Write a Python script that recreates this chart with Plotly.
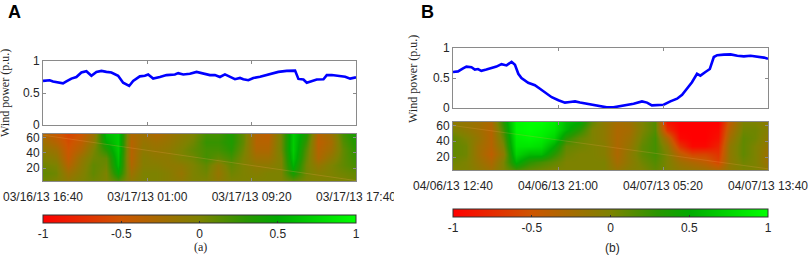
import plotly.graph_objects as go
import pandas as pd

W, H = 809, 258

# ---------------- data ----------------
a_start = "2013-03-16 16:40"
b_start = "2013-04-06 12:40"
tick_minutes = [0, 500, 1000, 1500]

a_minutes = [0, 32, 48, 72, 96, 112, 136, 160, 184, 208, 232, 256, 280, 304, 328, 360, 384, 413, 432, 464,
             488, 504, 528, 560, 592, 632, 648, 672, 704, 736, 768, 800, 824, 848, 872, 896, 920, 944, 960, 984,
             1008, 1040, 1072, 1104, 1128, 1168, 1208, 1224, 1248, 1264, 1288, 1312, 1344, 1360, 1384, 1416, 1448, 1472, 1500]
a_power = [0.69, 0.70, 0.68, 0.66, 0.65, 0.68, 0.725, 0.75, 0.82, 0.84, 0.77, 0.83, 0.845, 0.83, 0.82, 0.77, 0.66, 0.61, 0.69, 0.76,
           0.77, 0.79, 0.725, 0.75, 0.78, 0.79, 0.81, 0.79, 0.80, 0.83, 0.80, 0.78, 0.78, 0.75, 0.79, 0.75, 0.715, 0.735, 0.715, 0.70,
           0.735, 0.755, 0.78, 0.80, 0.83, 0.845, 0.85, 0.72, 0.71, 0.66, 0.68, 0.71, 0.715, 0.78, 0.78, 0.77, 0.755, 0.725, 0.745]

b_minutes = [0, 24, 48, 64, 88, 104, 119, 135, 159, 183, 207, 231, 255, 279, 295, 311, 326, 358, 390, 414,
             446, 470, 502, 533, 557, 581, 605, 637, 669, 701, 732, 764, 796, 828, 860, 900, 924, 947, 971, 1003,
             1035, 1067, 1091, 1115, 1138, 1162, 1178, 1202, 1223, 1242, 1258, 1290, 1322, 1354, 1385, 1417, 1449, 1481, 1500]
b_power = [0.60, 0.61, 0.66, 0.69, 0.68, 0.64, 0.65, 0.62, 0.64, 0.66, 0.69, 0.73, 0.71, 0.77, 0.72, 0.57, 0.50, 0.42, 0.38, 0.32,
           0.24, 0.18, 0.13, 0.09, 0.10, 0.11, 0.09, 0.067, 0.044, 0.022, 0.011, 0.011, 0.033, 0.044, 0.072, 0.11, 0.09, 0.044, 0.044, 0.055,
           0.11, 0.155, 0.22, 0.32, 0.43, 0.57, 0.54, 0.60, 0.65, 0.85, 0.88, 0.89, 0.894, 0.87, 0.86, 0.87, 0.86, 0.84, 0.82]

grid_minutes = list(range(0, 1501, 60))
scales_top_down = [64, 54, 44, 34, 24, 14, 4]

a_coef_top_down = [
    [-0.3, -0.45, -0.6, -0.5, -0.2, 0.6, 0.7, -0.3, -0.2, -0.3, -0.2, -0.1, 0.0, 0.2, 0.2, 0.35, 0.1, -0.35, -0.4, 0.05, 0.7, 0.35, -0.35, -0.2, 0.2, 0.4],
    [-0.2, -0.35, -0.55, -0.4, -0.1, 0.5, 0.7, -0.35, -0.15, -0.2, -0.15, -0.05, 0.05, 0.25, 0.25, 0.35, 0.1, -0.35, -0.35, 0.05, 0.7, 0.25, -0.4, -0.25, 0.15, 0.35],
    [-0.1, -0.2, -0.5, -0.3, 0.0, 0.3, 0.7, -0.35, -0.1, -0.15, -0.1, 0.0, 0.1, 0.2, 0.2, 0.3, 0.05, -0.3, -0.3, 0.05, 0.7, 0.15, -0.35, -0.2, 0.1, 0.3],
    [0.0, -0.1, -0.45, -0.15, 0.05, 0.1, 0.65, -0.35, -0.05, -0.1, -0.1, 0.0, 0.05, 0.2, 0.1, 0.2, 0.0, -0.2, -0.2, 0.0, 0.65, 0.1, -0.3, -0.1, 0.1, 0.25],
    [0.05, 0.0, -0.35, -0.1, 0.1, 0.05, 0.6, -0.3, -0.05, -0.05, -0.1, -0.1, 0.0, 0.1, -0.1, 0.1, 0.0, -0.1, -0.1, 0.0, 0.55, 0.05, -0.15, 0.0, 0.1, 0.2],
    [0.1, 0.05, -0.2, -0.05, 0.1, 0.0, 0.45, -0.2, 0.0, 0.0, -0.05, -0.15, 0.0, 0.05, -0.15, 0.05, 0.0, -0.05, 0.0, 0.0, 0.4, 0.05, -0.05, 0.0, 0.05, 0.1],
    [0.05, 0.0, -0.1, 0.0, 0.05, 0.0, 0.15, -0.1, 0.0, 0.0, -0.05, -0.1, 0.0, 0.0, -0.1, 0.0, 0.0, 0.0, 0.0, 0.0, 0.1, 0.0, 0.0, 0.0, 0.0, 0.05],
]

b_coef_top_down = [
    [-0.1, -0.15, -0.2, -0.3, 0.3, 0.95, 1.0, 1.0, 0.9, 0.6, 0.5, 0.1, -0.1, -0.25, -0.2, 0.0, 0.15, -0.9, -1.0, -1.0, -1.0, -1.0, -0.4, 0.0, 0.0, -0.1],
    [0.0, -0.1, -0.2, -0.35, 0.2, 0.95, 1.0, 0.95, 0.85, 0.55, 0.3, 0.0, -0.1, -0.3, -0.25, 0.0, 0.15, -0.7, -1.0, -1.0, -1.0, -0.95, -0.3, 0.05, 0.05, -0.05],
    [0.1, 0.0, -0.15, -0.35, 0.1, 0.9, 0.95, 0.9, 0.75, 0.3, 0.1, 0.0, -0.1, -0.3, -0.2, 0.05, 0.2, -0.3, -0.95, -1.0, -1.0, -0.9, -0.2, 0.1, 0.05, -0.1],
    [0.1, 0.05, -0.2, -0.35, 0.0, 0.85, 0.85, 0.8, 0.5, 0.1, 0.05, 0.0, -0.05, -0.3, -0.15, 0.1, 0.2, -0.1, -0.7, -0.95, -0.95, -0.8, -0.1, 0.1, 0.0, -0.15],
    [0.1, 0.05, -0.2, -0.4, -0.1, 0.75, 0.6, 0.6, 0.3, 0.05, 0.0, 0.0, -0.05, -0.3, -0.1, 0.1, 0.2, 0.0, -0.4, -0.6, -0.6, -0.7, -0.1, 0.1, 0.0, -0.2],
    [0.05, 0.0, -0.15, -0.3, 0.0, 0.55, 0.3, 0.2, 0.1, 0.0, 0.0, 0.0, 0.0, -0.25, -0.1, 0.05, 0.15, 0.0, -0.2, -0.3, -0.4, -0.6, -0.1, 0.05, 0.0, -0.2],
    [0.0, 0.0, -0.1, -0.2, 0.0, 0.2, 0.1, 0.05, 0.0, 0.0, 0.0, 0.0, 0.0, -0.15, -0.05, 0.0, 0.1, 0.0, -0.1, -0.15, -0.2, -0.3, -0.1, 0.0, 0.0, -0.1],
]

# faint cone-of-influence style trace seen across each scalogram
a_cone_minutes = [0, 1500]
a_cone_scale = [63, 4]
b_cone_minutes = [0, 1500]
b_cone_scale = [60, 5]

cbar_ticks = [-1, -0.5, 0, 0.5, 1]
cbar_labels = ["-1", "-0.5", "0", "0.5", "1"]
power_ticks = [0, 0.5, 1]
power_labels = ["0", "0.5", "1"]
scale_ticks = [20, 40, 60]

colorscale = [[0.0, "rgb(255,0,0)"], [0.25, "rgb(205,85,0)"], [0.5, "rgb(125,130,0)"],
              [0.65, "rgb(40,150,0)"], [0.75, "rgb(0,170,0)"], [1.0, "rgb(0,255,0)"]]


def tick_text(start):
    t0 = pd.Timestamp(start)
    return [(t0 + pd.Timedelta(minutes=m)).strftime("%m/%d/%y %H:%M") for m in tick_minutes]


def px_x(p):
    return p / W


def px_y(p):
    return 1 - p / H


fig = go.Figure()

fig.add_trace(go.Scatter(x=a_minutes, y=a_power, mode="lines", line=dict(color="#0000ff", width=2.6),
                         xaxis="x", yaxis="y", showlegend=False))
fig.add_trace(go.Heatmap(x=grid_minutes, y=scales_top_down[::-1], z=a_coef_top_down[::-1], zsmooth="best",
                         coloraxis="coloraxis", xaxis="x2", yaxis="y2"))
fig.add_trace(go.Scatter(x=a_cone_minutes, y=a_cone_scale, mode="lines",
                         line=dict(color="rgba(240,160,80,0.25)", width=1), xaxis="x2", yaxis="y2", showlegend=False))
fig.add_trace(go.Scatter(x=b_minutes, y=b_power, mode="lines", line=dict(color="#0000ff", width=2.6),
                         xaxis="x3", yaxis="y3", showlegend=False))
fig.add_trace(go.Heatmap(x=grid_minutes, y=scales_top_down[::-1], z=b_coef_top_down[::-1], zsmooth="best",
                         coloraxis="coloraxis2", xaxis="x4", yaxis="y4"))
fig.add_trace(go.Scatter(x=b_cone_minutes, y=b_cone_scale, mode="lines",
                         line=dict(color="rgba(240,160,80,0.22)", width=1), xaxis="x4", yaxis="y4", showlegend=False))

tick_font = dict(family="Liberation Sans, Arial, sans-serif", size=12, color="#262626")
ax = dict(showline=True, linecolor="#8a8a8a", linewidth=1, mirror="ticks", ticks="inside", ticklen=3,
          tickcolor="#8a8a8a", showgrid=False, zeroline=False, tickfont=tick_font, fixedrange=True,
          automargin=False)

panels = {
    "A": dict(x0=43, x1=356, ly0=61, ly1=125, hy0=134, hy1=181, cb0=215, cb1=223, start=a_start),
    "B": dict(x0=453, x1=768, ly0=48, ly1=108, hy0=122, hy1=170, cb0=209, cb1=217, start=b_start),
}

layout = dict(width=W, height=H, margin=dict(l=0, r=0, t=0, b=0, pad=0, autoexpand=False),
              paper_bgcolor="white", plot_bgcolor="white", showlegend=False)

for i, key in enumerate(["A", "B"]):
    p = panels[key]
    n1 = 2 * i + 1
    n2 = 2 * i + 2
    xd = [px_x(p["x0"]), px_x(p["x1"])]
    s1 = "" if n1 == 1 else str(n1)
    layout["xaxis" + s1] = dict(ax, domain=xd, range=[0, 1500], tickvals=tick_minutes, showticklabels=False,
                                anchor="y" + s1)
    layout["yaxis" + s1] = dict(ax, domain=[px_y(p["ly1"]), px_y(p["ly0"])], range=[0, 1], tickvals=power_ticks,
                                ticktext=power_labels, anchor="x" + s1)
    layout["xaxis" + str(n2)] = dict(ax, domain=xd, range=[0, 1500], tickvals=tick_minutes,
                                     ticktext=tick_text(p["start"]), anchor="y" + str(n2), ticklabelstandoff=5)
    layout["yaxis" + str(n2)] = dict(ax, domain=[px_y(p["hy1"]), px_y(p["hy0"])], range=[3.5, 64.5],
                                     tickvals=scale_ticks, anchor="x" + str(n2))
    ca = "coloraxis" if i == 0 else "coloraxis2"
    layout[ca] = dict(colorscale=colorscale, cmin=-1, cmax=1,
                      colorbar=dict(orientation="h", x=(xd[0] + xd[1]) / 2, xanchor="center",
                                    y=px_y(p["cb0"]), yanchor="top", len=xd[1] - xd[0], lenmode="fraction",
                                    thickness=p["cb1"] - p["cb0"], thicknessmode="pixels", outlinewidth=1,
                                    outlinecolor="#333333", tickvals=cbar_ticks, ticktext=cbar_labels,
                                    ticks="inside", ticklen=2, tickcolor="#333333", tickfont=tick_font,
                                    ticklabelposition="outside bottom", xpad=0, ypad=0))

fig.update_layout(**layout)

serif = "Liberation Serif, Times New Roman, serif"
ann = [
    dict(text="<b>A</b>", x=px_x(14), y=px_y(12), font=dict(family="Liberation Sans, Arial", size=18, color="black")),
    dict(text="<b>B</b>", x=px_x(427), y=px_y(12), font=dict(family="Liberation Sans, Arial", size=18, color="black")),
    dict(text="Wind power (p.u.)", x=px_x(5), y=px_y(93), textangle=-90, font=dict(family=serif, size=12, color="#262626")),
    dict(text="Wind power (p.u.)", x=px_x(413), y=px_y(79), textangle=-90, font=dict(family=serif, size=12, color="#262626")),
    dict(text="(a)", x=px_x(200), y=px_y(247), font=dict(family=serif, size=12, color="#262626")),
    dict(text="(b)", x=px_x(612), y=px_y(248), font=dict(family="Liberation Sans, Arial", size=12, color="#262626")),
]
fig.update_layout(annotations=[dict(a, xref="paper", yref="paper", showarrow=False, xanchor="center",
                                    yanchor="middle") for a in ann])

# clip the overflowing last tick label of panel A
fig.add_shape(type="rect", xref="paper", yref="paper", x0=px_x(394), x1=px_x(404), y0=px_y(206), y1=px_y(186),
              fillcolor="white", line=dict(width=0), layer="above")

fig.write_html("out.html", config={"displayModeBar": False},
               post_script="document.body.style.margin='0px';")
